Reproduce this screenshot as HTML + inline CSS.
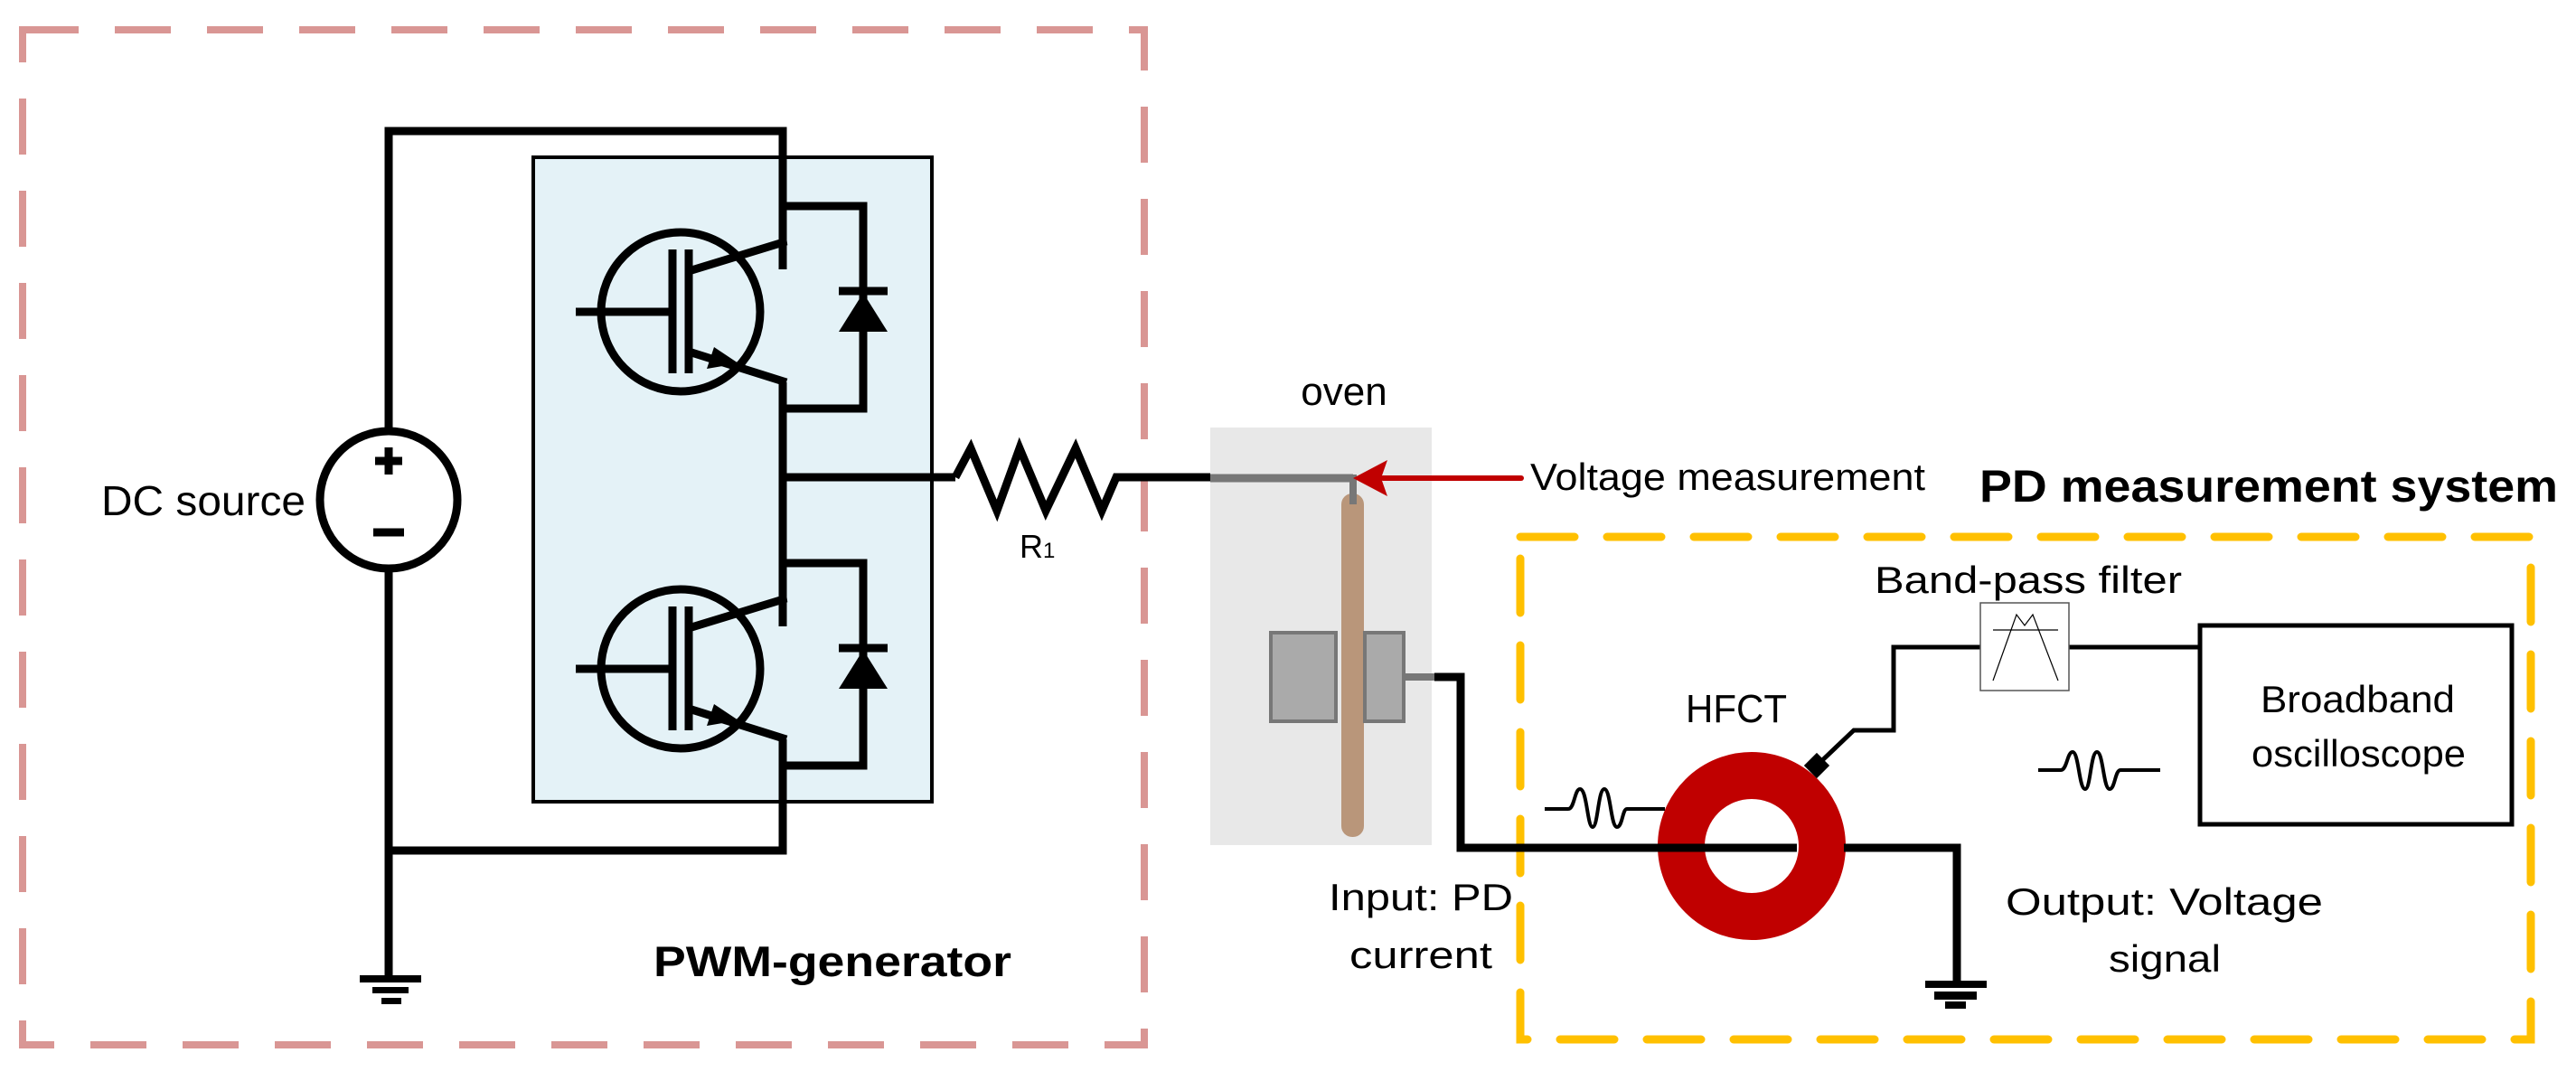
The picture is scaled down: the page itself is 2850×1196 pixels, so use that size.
<!DOCTYPE html>
<html><head><meta charset="utf-8"><style>html,body{margin:0;padding:0;background:#fff}svg{display:block}</style></head>
<body>
<svg width="2850" height="1196" viewBox="0 0 2850 1196" xmlns="http://www.w3.org/2000/svg" font-family="Liberation Sans, sans-serif">
<rect width="2850" height="1196" fill="#fff"/>
<!-- pink dashed -->
<rect x="25" y="33" width="1241" height="1123" fill="none" stroke="#d99694" stroke-width="8" stroke-dasharray="62 40"/>
<!-- blue box -->
<rect x="590" y="174" width="441" height="713" fill="#e4f2f7" stroke="#000" stroke-width="4"/>
<g stroke="#000" stroke-width="9" fill="none" stroke-linejoin="miter">
<polyline points="430,553 430,145 866,145 866,298"/>
<polyline points="430,553 430,1082"/>
<polyline points="430,941 866,941 866,818"/>
<polyline points="866,423 866,693"/>
<line x1="866" y1="528" x2="1057" y2="528"/>
<polyline points="1057,528 1074,496 1103,565 1128,496 1157,565 1190,496 1219,565 1235,528 1339,528"/>
<circle cx="430" cy="553" r="76" fill="#fff"/>
</g>
<g stroke="#000" stroke-width="9" fill="none">
<line x1="430" y1="495" x2="430" y2="525"/><line x1="415" y1="510" x2="445" y2="510"/>
<line x1="413" y1="589" x2="447" y2="589"/>
</g>
<rect x="398" y="1079" width="68" height="8" fill="#000"/>
<rect x="412" y="1092" width="40" height="7" fill="#000"/>
<rect x="422" y="1104" width="22" height="7" fill="#000"/>
<!-- IGBTs -->
<g id="ig" stroke="#000" stroke-width="9" fill="none">
<circle cx="753" cy="345" r="88"/>
<line x1="637" y1="345" x2="744" y2="345"/>
<line x1="744" y1="276" x2="744" y2="413"/>
<line x1="762" y1="276" x2="762" y2="413"/>
<polyline points="762,300 870,267 866,267"/>
<line x1="762" y1="389" x2="870" y2="423"/>
<polyline points="866,228 955,228 955,452 866,452"/>
<line x1="928" y1="322" x2="982" y2="322"/>
<polygon points="955,324 928,367 982,367" fill="#000" stroke="none"/>
<polygon points="817,402 790,384 782,408" fill="#000" stroke="none"/>
</g>
<use href="#ig" transform="translate(0,395)"/>
<line x1="866" y1="263" x2="866" y2="298" stroke="#000" stroke-width="9"/>
<text x="112" y="570" font-size="46" textLength="226" lengthAdjust="spacingAndGlyphs">DC source</text>
<text x="1128" y="617" font-size="36">R<tspan font-size="24">1</tspan></text>
<text x="723" y="1080" font-size="47" font-weight="bold" textLength="396" lengthAdjust="spacingAndGlyphs">PWM-generator</text>
<!-- oven -->
<rect x="1339" y="473" width="245" height="462" fill="#e8e8e8"/>
<line x1="1339" y1="529" x2="1497" y2="529" stroke="#777" stroke-width="9"/>
<line x1="1497" y1="525" x2="1497" y2="558" stroke="#777" stroke-width="8"/>
<rect x="1484" y="546" width="25" height="380" rx="12" fill="#b9967a"/>
<line x1="1497" y1="525" x2="1497" y2="558" stroke="#777" stroke-width="8"/>
<rect x="1406" y="700" width="72" height="98" fill="#aaa" stroke="#777" stroke-width="4"/>
<rect x="1510" y="700" width="43" height="98" fill="#aaa" stroke="#777" stroke-width="4"/>
<line x1="1553" y1="749" x2="1590" y2="749" stroke="#777" stroke-width="8"/>
<line x1="1530" y1="529" x2="1683" y2="529" stroke="#c00000" stroke-width="6" stroke-linecap="round"/>
<polygon points="1497,529 1535,509 1528,529 1535,549" fill="#c00000"/>
<text x="1487" y="448" font-size="44" text-anchor="middle">oven</text>
<text x="1693" y="542" font-size="42" textLength="437" lengthAdjust="spacingAndGlyphs">Voltage measurement</text>
<text x="2190" y="555" font-size="50" font-weight="bold" textLength="640" lengthAdjust="spacingAndGlyphs">PD measurement system</text>
<!-- yellow -->
<rect x="1682" y="594" width="1118" height="556" fill="none" stroke="#ffc000" stroke-width="9" stroke-dasharray="60 36" stroke-linecap="round"/>
<!-- HFCT -->
<ellipse cx="1938" cy="936" rx="78" ry="78" fill="none" stroke="#c00000" stroke-width="52"/>
<g stroke="#000" stroke-width="9" fill="none">
<polyline points="1587,749 1616,749 1616,938 1988,938"/>
<polyline points="2040,938 2165,938 2165,1088"/>
</g>
<rect x="2130" y="1085" width="68" height="8" fill="#000"/>
<rect x="2140" y="1097" width="47" height="9" fill="#000"/>
<rect x="2152" y="1108" width="23" height="8" fill="#000"/>
<polyline points="2010,847 2051,808 2095,808 2095,716 2191,716" fill="none" stroke="#000" stroke-width="5"/>
<line x1="2289" y1="716" x2="2434" y2="716" stroke="#000" stroke-width="5"/>
<rect x="2000" y="837" width="20" height="20" fill="#000" transform="rotate(45 2010 847)"/>
<rect x="2191" y="667" width="98" height="97" fill="#fff" stroke="#555" stroke-width="1.5"/>
<g stroke="#000" stroke-width="1.2" fill="none"><line x1="2205" y1="697" x2="2277" y2="697"/><polyline points="2205,753 2231,680 2240,692 2249,680 2277,753"/></g>
<rect x="2434" y="692" width="345" height="220" fill="#fff" stroke="#000" stroke-width="5"/>
<g stroke="#000" stroke-width="4" fill="none">
<path d="M1709,895 H1735 C1742,895 1742,873 1748,873 C1756,873 1756,915 1762,915 C1768,915 1768,873 1775,873 C1782,873 1782,915 1789,915 C1795,915 1795,895 1800,895 H1842"/>
<path d="M2255,852 H2280 C2287,852 2287,832 2293,832 C2300,832 2300,873 2307,873 C2313,873 2313,832 2320,832 C2327,832 2327,873 2334,873 C2340,873 2340,852 2346,852 H2390"/>
</g>
<text x="2074" y="656" font-size="42" textLength="340" lengthAdjust="spacingAndGlyphs">Band-pass filter</text>
<text x="1865" y="799" font-size="44" textLength="112" lengthAdjust="spacingAndGlyphs">HFCT</text>
<text x="2501" y="788" font-size="42" textLength="215" lengthAdjust="spacingAndGlyphs">Broadband</text>
<text x="2491" y="848" font-size="42" textLength="237" lengthAdjust="spacingAndGlyphs">oscilloscope</text>
<text x="1470" y="1007" font-size="42" textLength="204" lengthAdjust="spacingAndGlyphs">Input: PD</text>
<text x="1493" y="1071" font-size="42" textLength="158" lengthAdjust="spacingAndGlyphs">current</text>
<text x="2219" y="1012" font-size="42" textLength="351" lengthAdjust="spacingAndGlyphs">Output: Voltage</text>
<text x="2333" y="1075" font-size="42" textLength="124" lengthAdjust="spacingAndGlyphs">signal</text>
</svg>
</body></html>
